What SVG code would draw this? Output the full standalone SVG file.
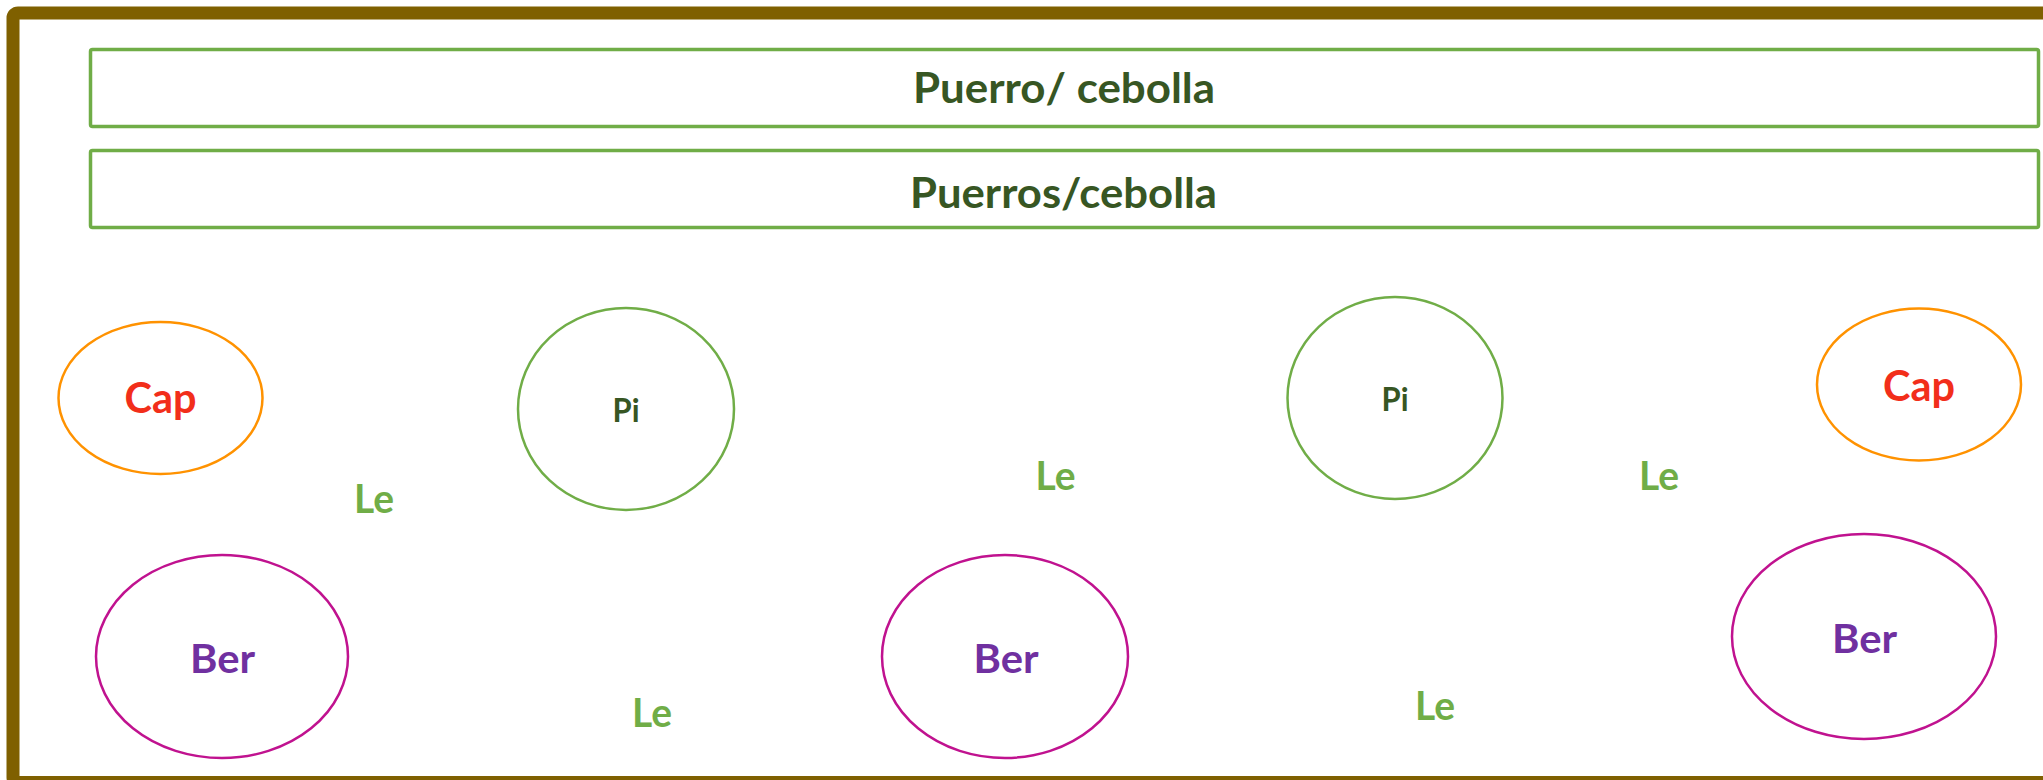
<svg xmlns="http://www.w3.org/2000/svg" width="2043" height="780" viewBox="0 0 2043 780">
<style>
.frame{fill:none;stroke:#7F6000;stroke-width:13}
.bed{fill:none;stroke:#70AD47;stroke-width:3.5}
.t{font-family:Lato,"Open Sans","Liberation Sans",sans-serif;font-weight:bold;text-anchor:middle}
.title{font-size:42px;fill:#375623}
.cap{fill:#fff;stroke:#FF9200;stroke-width:2.5}
.capt{font-size:42px;fill:#F22E1A}
.pi{fill:#fff;stroke:#70AD47;stroke-width:2.5}
.pit{font-size:33px;fill:#375623}
.ber{fill:#fff;stroke:#C0128F;stroke-width:2.5}
.bert{font-size:41px;fill:#7030A0}
.le{font-size:41px;fill:#70AD47}
</style>
<rect width="2043" height="780" fill="#fff"/>
<rect class="frame" x="13" y="13" width="2060" height="769.5" rx="5"/>
<g id="bed1"><rect class="bed" x="90.5" y="49.5" width="1948" height="77" rx="2"/><text class="t title" x="1064" y="103" textLength="302" lengthAdjust="spacingAndGlyphs">Puerro/ cebolla</text></g>
<g id="bed2"><rect class="bed" x="90.5" y="150.5" width="1948" height="77" rx="2"/><text class="t title" x="1063.5" y="208" textLength="307" lengthAdjust="spacingAndGlyphs">Puerros/cebolla</text></g>
<g id="cap1"><ellipse class="cap" cx="160.5" cy="398" rx="102" ry="76"/><text class="t capt" x="160.5" y="413" textLength="72" lengthAdjust="spacingAndGlyphs">Cap</text></g>
<g id="pi1"><ellipse class="pi" cx="626" cy="409" rx="108" ry="101"/><text class="t pit" x="626" y="422" textLength="27" lengthAdjust="spacingAndGlyphs">Pi</text></g>
<g id="pi2"><ellipse class="pi" cx="1395" cy="398" rx="107.5" ry="101"/><text class="t pit" x="1395" y="411" textLength="27" lengthAdjust="spacingAndGlyphs">Pi</text></g>
<g id="cap2"><ellipse class="cap" cx="1919" cy="384.5" rx="102" ry="76"/><text class="t capt" x="1919" y="400.5" textLength="72" lengthAdjust="spacingAndGlyphs">Cap</text></g>
<g id="ber1"><ellipse class="ber" cx="222" cy="656.5" rx="126" ry="101.5"/><text class="t bert" x="222.5" y="673" textLength="65" lengthAdjust="spacingAndGlyphs">Ber</text></g>
<g id="ber2"><ellipse class="ber" cx="1005" cy="656.5" rx="123" ry="101.5"/><text class="t bert" x="1006" y="673" textLength="65" lengthAdjust="spacingAndGlyphs">Ber</text></g>
<g id="ber3"><ellipse class="ber" cx="1864" cy="636.5" rx="132" ry="102.5"/><text class="t bert" x="1864.5" y="653" textLength="65" lengthAdjust="spacingAndGlyphs">Ber</text></g>
<g id="le1"><text class="t le" x="374" y="513" textLength="40" lengthAdjust="spacingAndGlyphs">Le</text></g>
<g id="le2"><text class="t le" x="652" y="727" textLength="40" lengthAdjust="spacingAndGlyphs">Le</text></g>
<g id="le3"><text class="t le" x="1055.5" y="490" textLength="40" lengthAdjust="spacingAndGlyphs">Le</text></g>
<g id="le4"><text class="t le" x="1435" y="720" textLength="40" lengthAdjust="spacingAndGlyphs">Le</text></g>
<g id="le5"><text class="t le" x="1659" y="490" textLength="40" lengthAdjust="spacingAndGlyphs">Le</text></g>
<g id="connectors"></g>
</svg>
